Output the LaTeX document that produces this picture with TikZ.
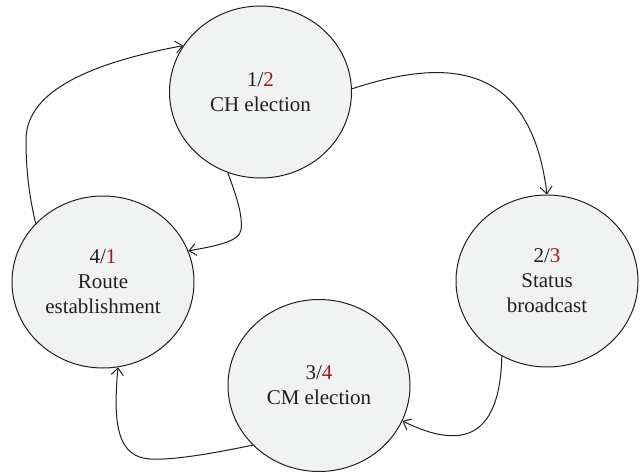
\documentclass[tikz,border=0pt]{standalone}
\usepackage{fontspec}
\setmainfont{Liberation Serif}
\usetikzlibrary{shapes.geometric,arrows.meta}
\definecolor{ink}{HTML}{231F20}
\definecolor{numred}{HTML}{9E1B20}
\definecolor{bubble}{HTML}{F1F2F2}
\begin{document}
\begin{tikzpicture}[x=1pt,y=-1pt,
  state/.style={ellipse, draw=ink, line width=1pt, fill=bubble,
    minimum width=182pt, minimum height=172pt, inner sep=0pt,
    align=center, text=ink, font=\fontsize{21}{25}\selectfont},
  link/.style={draw=ink, line width=1pt, -{Straight Barb[length=7pt,width=12pt]}}]
\useasboundingbox (0,0) rectangle (640,476);
\node[state] (s1) at (260.5,92) {1/\textcolor{numred}{2}\\CH election};
\node[state] (s2) at (547,281) {2/\textcolor{numred}{3}\\Status\\broadcast};
\node[state] (s3) at (319,385.5) {3/\textcolor{numred}{4}\\CM election};
\node[state] (s4) at (103,282) {4/\textcolor{numred}{1}\\Route\\establishment};
\draw[link] (s1.2) .. controls (440,60) and (530,56) .. (s2.north);
\draw[link] (s2.239) .. controls (500,435) and (465,452) .. (s3.-23);
\draw[link] (s3.222) .. controls (200,456) and (170,460) .. (150,459)
  .. controls (120,457) and (112,430) .. (s4.280);
\draw[link] (s4.139) .. controls (29,195) and (26,170) .. (26,140)
  .. controls (26,95) and (80,65) .. (s1.149);
\draw[link] (s1.248) .. controls (236,195) and (243,215) .. (241,230)
  .. controls (239,242) and (215,246) .. (s4.20);
\end{tikzpicture}
\end{document}
